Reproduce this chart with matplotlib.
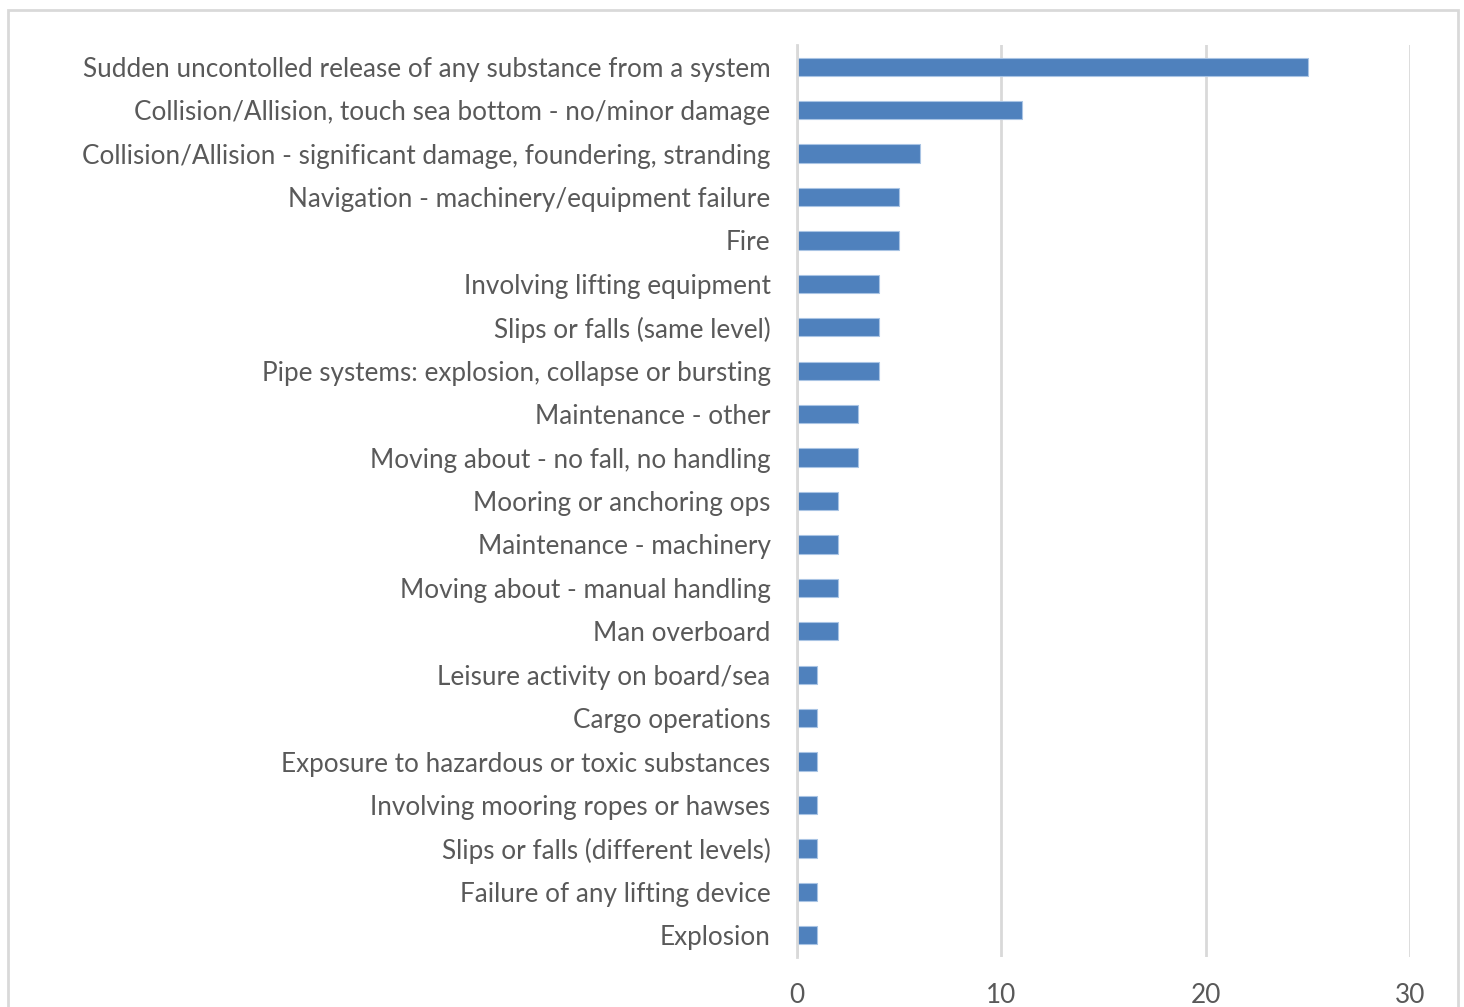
import matplotlib
matplotlib.use("Agg")
import matplotlib.pyplot as plt
from matplotlib.patches import Rectangle

categories = [
    "Sudden uncontolled release of any substance from a system",
    "Collision/Allision, touch sea bottom - no/minor damage",
    "Collision/Allision - significant damage, foundering, stranding",
    "Navigation - machinery/equipment failure",
    "Fire",
    "Involving lifting equipment",
    "Slips or falls (same level)",
    "Pipe systems: explosion, collapse or bursting",
    "Maintenance - other",
    "Moving about - no fall, no handling",
    "Mooring or anchoring ops",
    "Maintenance - machinery",
    "Moving about - manual handling",
    "Man overboard",
    "Leisure activity on board/sea",
    "Cargo operations",
    "Exposure to hazardous or toxic substances",
    "Involving mooring ropes or hawses",
    "Slips or falls (different levels)",
    "Failure of any lifting device",
    "Explosion",
]
counts = [25, 11, 6, 5, 5, 4, 4, 4, 3, 3, 2, 2, 2, 2, 1, 1, 1, 1, 1, 1, 1]
x_ticks = [0, 10, 20, 30]

plt.rcParams["font.family"] = ["Lato", "DejaVu Sans"]

fig = plt.figure(figsize=(14.64, 10.07), dpi=100)
fig.patches.append(Rectangle((8 / 1464, -0.05), 1450 / 1464, 1.05 - 10 / 1007,
                             transform=fig.transFigure, fill=False,
                             edgecolor="#d9d9d9", linewidth=2, zorder=0))

ax = fig.add_axes([797 / 1464, 1 - 957 / 1007, 613 / 1464, 912 / 1007])
ypos = list(range(len(categories)))
ax.barh(ypos, counts, height=0.42, color="#4f81bd", edgecolor="#a9c4e4",
        linewidth=0.8, zorder=3)
ax.set_ylim(len(categories) - 0.5, -0.5)
ax.set_xlim(0, 30)
ax.set_xticks(x_ticks)
ax.set_yticks(ypos)
ax.set_yticklabels(categories)
ax.tick_params(axis="y", length=0, pad=19, labelsize=18.8, labelcolor="#595959")
ax.tick_params(axis="x", length=0, pad=19, labelsize=18.8, labelcolor="#595959")
ax.grid(axis="x", color="#d9d9d9", linewidth=2, zorder=0)
for s in ["top", "right", "bottom"]:
    ax.spines[s].set_visible(False)
ax.spines["left"].set_color("#d9d9d9")
ax.spines["left"].set_linewidth(2)
ax.spines["left"].set_zorder(4)

fig.savefig("out.png", dpi=100)
